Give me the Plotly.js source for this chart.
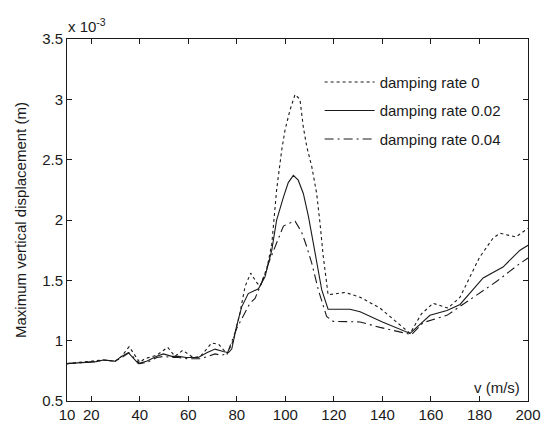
<!DOCTYPE html>
<html>
<head>
<meta charset="utf-8">
<script src="https://cdn.plot.ly/plotly-3.0.1.min.js"></script>
<style>html,body{margin:0;padding:0;background:#fff;}#chart{width:544px;height:424px;}</style>
</head>
<body>
<div id="chart"></div>
<script>
// Series: damping rate 0 (dotted)
var vRate0 = [10,22,25,30,32.5,35.6,40,42,47,51.5,54.5,57.7,62,65,69.6,72.5,76,78.5,81.3,83.4,85.7,88.2,89.6,92.3,94.4,96.4,98.5,99.9,101.9,104,106,107.4,108.8,110.9,112.9,114.3,115.6,117,117.6,124.7,130.8,139,146,151.4,156,160.9,167,172,180,185.6,188.5,195,200];
var dRate0 = [0.81,0.83,0.84,0.83,0.87,0.95,0.82,0.85,0.88,0.945,0.87,0.92,0.86,0.87,0.98,0.97,0.89,1.0,1.23,1.45,1.56,1.48,1.45,1.59,1.80,2.25,2.58,2.75,2.91,3.04,3.0,2.77,2.61,2.44,2.22,1.97,1.70,1.48,1.38,1.40,1.36,1.27,1.15,1.06,1.22,1.31,1.27,1.36,1.69,1.85,1.89,1.86,1.93];
// Series: damping rate 0.02 (solid)
var vRate002 = [10,22,25,29.8,32.5,35.3,39.4,42.8,47,49.7,53.2,55.9,59.3,64.1,67.6,71,74.4,76.5,77.9,79.9,82,84.7,88.9,91.6,94.4,96.4,99.2,101.2,103.3,105.3,107.4,109.5,111.5,112.9,115,117.6,126.6,130.8,140,151.4,159.6,166.6,172,181.5,189.7,196.7,200];
var dRate002 = [0.81,0.826,0.84,0.83,0.87,0.90,0.81,0.83,0.87,0.89,0.87,0.87,0.86,0.86,0.90,0.93,0.91,0.90,0.93,1.12,1.28,1.39,1.43,1.53,1.75,2.0,2.19,2.31,2.37,2.33,2.22,2.03,1.81,1.64,1.42,1.26,1.26,1.24,1.155,1.06,1.21,1.25,1.30,1.52,1.61,1.75,1.79];
// Series: damping rate 0.04 (dash-dot)
var vRate004 = [10,22,25,30,32.5,35.5,40,43,47,50,53,56,60,65,68,71,73.6,76,79.9,82.6,85.4,87.5,90.2,93,96.4,99.2,101.2,104,106.7,108.8,110.9,113.6,117,119.7,130.8,139,152,156.8,166.6,176,187,196.7,200];
var dRate004 = [0.81,0.826,0.84,0.83,0.86,0.90,0.81,0.82,0.86,0.87,0.86,0.86,0.85,0.85,0.87,0.89,0.88,0.89,1.1,1.2,1.31,1.35,1.48,1.64,1.81,1.95,1.97,1.99,1.90,1.78,1.64,1.42,1.2,1.16,1.155,1.11,1.05,1.15,1.21,1.34,1.49,1.64,1.685];

var seriesNames = ['damping rate 0','damping rate 0.02','damping rate 0.04'];
var xTicks = [10,20,40,60,80,100,120,140,160,180,200];
var xTickText = ['10','20','40','60','80','100','120','140','160','180','200'];

var ink = '#1a1a1a';
var traces = [
  {x: vRate0, y: dRate0, name: seriesNames[0], mode: 'lines', legendgroup: 'a',
   line: {color: ink, width: 1.1, dash: '3px,3px'}},
  {x: vRate002, y: dRate002, name: seriesNames[1], mode: 'lines', legendgroup: 'b',
   line: {color: ink, width: 1.1}},
  {x: vRate004, y: dRate004, name: seriesNames[2], mode: 'lines', legendgroup: 'c',
   line: {color: ink, width: 1.1, dash: '9px,4px,2px,4px'}}
];

var fnt = {family: 'Liberation Sans, Arial, sans-serif', size: 15, color: ink};
var layout = {
  width: 544, height: 424,
  margin: {l: 67, r: 16, t: 39, b: 23},
  paper_bgcolor: '#fff', plot_bgcolor: '#fff',
  font: fnt,
  showlegend: true,
  legend: {x: 0.548, y: 0.926, xanchor: 'left', yanchor: 'top', bgcolor: 'rgba(0,0,0,0)',
           borderwidth: 0, font: fnt, traceorder: 'grouped', tracegroupgap: 6, itemwidth: 50},
  xaxis: {range: [10, 200], tickmode: 'array', tickvals: xTicks, ticktext: xTickText,
          ticks: 'inside', ticklen: 5, tickcolor: ink, showline: true, linecolor: ink, linewidth: 1,
          mirror: 'ticks', showgrid: false, zeroline: false, tickfont: fnt},
  yaxis: {range: [0.5, 3.5], dtick: 0.5, tick0: 0.5,
          ticks: 'inside', ticklen: 5, tickcolor: ink, showline: true, linecolor: ink, linewidth: 1,
          mirror: 'ticks', showgrid: false, zeroline: false, tickfont: fnt},
  annotations: [
    {text: 'Maximum vertical displacement (m)', xref: 'paper', yref: 'paper', x: -0.102, y: 0.5,
     xanchor: 'center', yanchor: 'middle', textangle: -90, showarrow: false, font: fnt},
    {text: 'x 10<sup>-3</sup>', xref: 'paper', yref: 'paper', x: -0.003, y: 1.005,
     xanchor: 'left', yanchor: 'bottom', showarrow: false, font: fnt},
    {text: 'v (m/s)', xref: 'paper', yref: 'paper', x: 0.987, y: 0.036,
     xanchor: 'right', yanchor: 'middle', showarrow: false, font: fnt}
  ]
};
Plotly.newPlot('chart', traces, layout, {displayModeBar: false, staticPlot: true});
</script>
</body>
</html>
